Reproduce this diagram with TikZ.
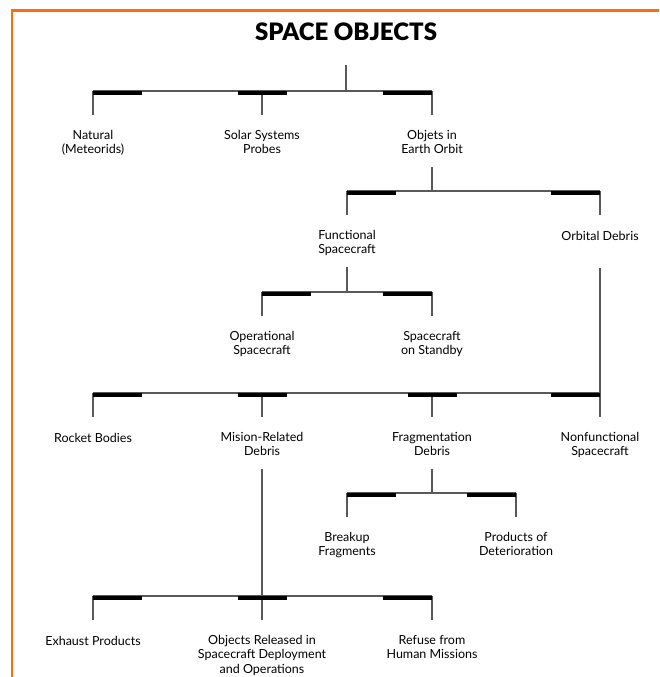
\documentclass[tikz,border=0pt]{standalone}
\usepackage{fontspec}
\setmainfont{Lato}
\newfontfamily\heavyfont{Lato Black}
\definecolor{frameorange}{HTML}{FF6A13}

\begin{document}
\begin{tikzpicture}[
  x=1pt, y=-1pt,
  every node/.style={inner sep=0pt},
  cat/.style={align=center, anchor=north, font=\fontsize{12.5}{14.5}\selectfont,
    execute at begin node=\strut, execute at end node=\strut},
  link/.style={-, black!65, line width=1.1pt},
  drop/.style={link, shorten >=14.85pt},
  stem/.style={link, shorten <=8.65pt},
  bar/.style={-, black, line width=4.5pt},
]
  \useasboundingbox (0,0) rectangle (659,677);
  % Frame
  \draw[line width=2.7pt, frameorange] (12,677) |- (659,10.5);
  % Title
  \node[font=\heavyfont\fontsize{24}{28}\selectfont, anchor=base] (title) at (346,40.5) {SPACE OBJECTS};
  % Level 1
  \node[cat] (natural) at (93,129.85) {Natural\\(Meteorids)};
  \node[cat] (probes) at (262,129.85) {Solar Systems\\Probes};
  \node[cat] (orbit) at (432,129.85) {Objets in\\Earth Orbit};
  \coordinate (title-s) at (346,91);
  \coordinate (natural-j) at (93,91);
  \coordinate (probes-j) at (262,91);
  \coordinate (orbit-j) at (432,91);
  \draw[link, shorten <=24.5pt] (title) -- (title-s);
  \draw[link] (natural-j) -- (orbit-j);
  \draw[drop] (natural-j) -- (natural);
  \draw[drop] (probes-j) -- (probes);
  \draw[drop] (orbit-j) -- (orbit);
  \draw[bar] ([yshift=-1.75pt]natural-j) -- ++(49,0);
  \draw[bar] ([yshift=-1.75pt,xshift=-24.5pt]probes-j) -- ++(49,0);
  \draw[bar] ([yshift=-1.75pt]orbit-j) -- ++(-49,0);
  % Level 2: objects in earth orbit
  \node[cat] (functional) at (347,229.85) {Functional\\Spacecraft};
  \node[cat] (debris) at (600,229.85) {Orbital Debris};
  \coordinate (orbit-s) at (432,191);
  \coordinate (functional-j) at (347,191);
  \coordinate (debris-j) at (600,191);
  \draw[stem] (orbit) -- (orbit-s);
  \draw[link] (functional-j) -- (debris-j);
  \draw[drop] (functional-j) -- (functional);
  \draw[drop] (debris-j) -- (debris);
  \draw[bar] ([yshift=-1.75pt]functional-j) -- ++(49,0);
  \draw[bar] ([yshift=-1.75pt]debris-j) -- ++(-49,0);
  % Level 3: functional spacecraft
  \node[cat] (operational) at (262,330.85) {Operational\\Spacecraft};
  \node[cat] (standby) at (432,330.85) {Spacecraft\\on Standby};
  \coordinate (functional-s) at (347,292);
  \coordinate (operational-j) at (262,292);
  \coordinate (standby-j) at (432,292);
  \draw[stem] (functional) -- (functional-s);
  \draw[link] (operational-j) -- (standby-j);
  \draw[drop] (operational-j) -- (operational);
  \draw[drop] (standby-j) -- (standby);
  \draw[bar] ([yshift=-1.75pt]operational-j) -- ++(49,0);
  \draw[bar] ([yshift=-1.75pt]standby-j) -- ++(-49,0);
  % Level 4: orbital debris
  \node[cat] (rocket) at (93,431.85) {Rocket Bodies};
  \node[cat] (mission) at (262,431.85) {Mision-Related\\Debris};
  \node[cat] (fragment) at (432,431.85) {Fragmentation\\Debris};
  \node[cat] (nonfunc) at (600,431.85) {Nonfunctional\\Spacecraft};
  \coordinate (rocket-j) at (93,393);
  \coordinate (mission-j) at (262,393);
  \coordinate (fragment-j) at (432,393);
  \coordinate (nonfunc-j) at (600,393);
  \draw[link, shorten <=23.15pt] (debris) -- (nonfunc-j);
  \draw[link] (rocket-j) -- (nonfunc-j);
  \draw[drop] (rocket-j) -- (rocket);
  \draw[drop] (mission-j) -- (mission);
  \draw[drop] (fragment-j) -- (fragment);
  \draw[drop] (nonfunc-j) -- (nonfunc);
  \draw[bar] ([yshift=-1.75pt]rocket-j) -- ++(49,0);
  \draw[bar] ([yshift=-1.75pt,xshift=-24.5pt]mission-j) -- ++(49,0);
  \draw[bar] ([yshift=-1.75pt,xshift=-24.5pt]fragment-j) -- ++(49,0);
  \draw[bar] ([yshift=-1.75pt]nonfunc-j) -- ++(-49,0);
  % Level 5: fragmentation debris
  \node[cat] (breakup) at (347,531.85) {Breakup\\Fragments};
  \node[cat] (deterioration) at (516,531.85) {Products of\\Deterioration};
  \coordinate (fragment-s) at (432,493);
  \coordinate (breakup-j) at (347,493);
  \coordinate (deterioration-j) at (516,493);
  \draw[stem] (fragment) -- (fragment-s);
  \draw[link] (breakup-j) -- (deterioration-j);
  \draw[drop] (breakup-j) -- (breakup);
  \draw[drop] (deterioration-j) -- (deterioration);
  \draw[bar] ([yshift=-1.75pt]breakup-j) -- ++(49,0);
  \draw[bar] ([yshift=-1.75pt]deterioration-j) -- ++(-49,0);
  % Level 6: mission-related debris
  \node[cat] (exhaust) at (93,634.85) {Exhaust Products};
  \node[cat] (released) at (262,634.85) {Objects Released in\\Spacecraft Deployment\\and Operations};
  \node[cat] (refuse) at (432,634.85) {Refuse from\\Human Missions};
  \coordinate (exhaust-j) at (93,596);
  \coordinate (released-j) at (262,596);
  \coordinate (refuse-j) at (432,596);
  \draw[stem] (mission) -- (released-j);
  \draw[link] (exhaust-j) -- (refuse-j);
  \draw[drop] (exhaust-j) -- (exhaust);
  \draw[drop] (released-j) -- (released);
  \draw[drop] (refuse-j) -- (refuse);
  \draw[bar] ([yshift=-1.75pt]exhaust-j) -- ++(49,0);
  \draw[bar] ([yshift=-1.75pt,xshift=-24.5pt]released-j) -- ++(49,0);
  \draw[bar] ([yshift=-1.75pt]refuse-j) -- ++(-49,0);
\end{tikzpicture}
\end{document}
